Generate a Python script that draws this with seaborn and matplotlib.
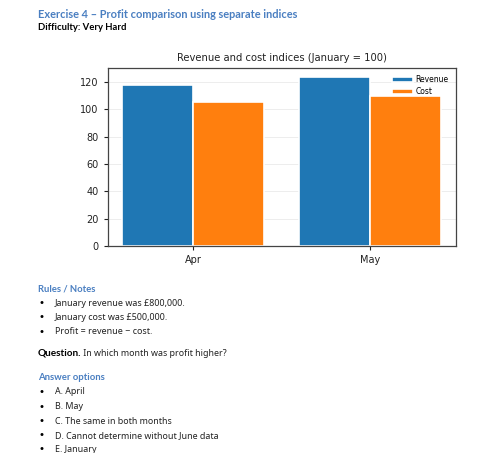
import matplotlib
matplotlib.use("Agg")
import matplotlib.pyplot as plt
import seaborn as sns
import pandas as pd

months = ["Apr", "May"]
revenue = [118, 124]
cost = [105, 110]
series_names = ["Revenue", "Cost"]

heading = "Exercise 4 – Profit comparison using separate indices"
difficulty = "Difficulty: Very Hard"
chart_title = "Revenue and cost indices (January = 100)"
notes_heading = "Rules / Notes"
notes = ["January revenue was £800,000.", "January cost was £500,000.", "Profit = revenue − cost."]
question_bold = "Question."
question_text = " In which month was profit higher?"
options_heading = "Answer options"
options = ["A. April", "B. May", "C. The same in both months", "D. Cannot determine without June data", "E. January"]

df = pd.DataFrame({
    "month": months * 2,
    "value": revenue + cost,
    "series": [series_names[0]] * len(months) + [series_names[1]] * len(months),
})

W, H = 502, 453
fig = plt.figure(figsize=(W / 100, H / 100), dpi=100)
fig.patch.set_facecolor("white")

def fx(x):
    return x / W

def fy(y):
    return 1 - y / H

ax = fig.add_axes([fx(107.7), fy(246), fx(455.7) - fx(107.7), fy(68.3) - fy(246)])
sns.barplot(data=df, x="month", y="value", hue="series",
            palette=["#1f77b4", "#ff7f0e"], ax=ax, width=0.8,
            edgecolor="white", linewidth=1.2, saturation=1, zorder=2)
ax.set_xlim(-0.48, 1.48)
ax.set_ylim(0, 130)
ax.set_yticks(range(0, 121, 20))
ax.set_xlabel("")
ax.set_ylabel("")
ax.set_title(chart_title, fontsize=7.2, color="#222222", pad=5)
ax.tick_params(labelsize=7, colors="#222222", length=3, width=0.8)
ax.yaxis.grid(True, color="#dddddd", linewidth=0.6, alpha=0.6, zorder=0)
ax.set_axisbelow(True)
for s in ax.spines.values():
    s.set_color("#444444")
    s.set_linewidth(0.9)
leg = ax.legend(loc="upper right", frameon=False, fontsize=5.5,
                handlelength=2.8, handleheight=0.7, borderaxespad=0.5, labelspacing=0.35,
                handletextpad=0.3)

blue = "#4a7fc1"
body = "Noto Sans"
bold = "Lato"
fig.text(fx(38), fy(15), heading, fontsize=7.9, fontweight="bold", color=blue,
         family=bold, va="center", ha="left")
fig.text(fx(38), fy(28), difficulty, fontsize=6.8, fontweight="bold", color="black",
         family=bold, va="center", ha="left")

fig.text(fx(38), fy(289), notes_heading, fontsize=6.85, fontweight="bold", color=blue,
         family=bold, va="center", ha="left")
ny = [303, 317.5, 332]
for y, t in zip(ny, notes):
    fig.text(fx(38), fy(y), "•", fontsize=7.5, color="black", family="DejaVu Sans", va="center", ha="left")
    fig.text(fx(55), fy(y), t, fontsize=6.45, color="#222222", family=body, va="center", ha="left")

qt = fig.text(fx(38), fy(353), question_bold, fontsize=7.2, fontweight="bold", color="black",
              family=bold, va="center", ha="left")
fig.canvas.draw()
bb = qt.get_window_extent()
fig.text(bb.x1 / W, fy(353), question_text, fontsize=6.4, color="#222222",
         family=body, va="center", ha="left")

fig.text(fx(38), fy(378), options_heading, fontsize=6.8, fontweight="bold", color=blue,
         family=bold, va="center", ha="left")
oy = [392, 406.5, 421, 435.5, 449.5]
for y, t in zip(oy, options):
    fig.text(fx(38), fy(y), "•", fontsize=7.5, color="black", family="DejaVu Sans", va="center", ha="left")
    fig.text(fx(55), fy(y), t, fontsize=6.4, color="#222222", family=body, va="center", ha="left")

fig.savefig("out.png", dpi=100, facecolor="white")
